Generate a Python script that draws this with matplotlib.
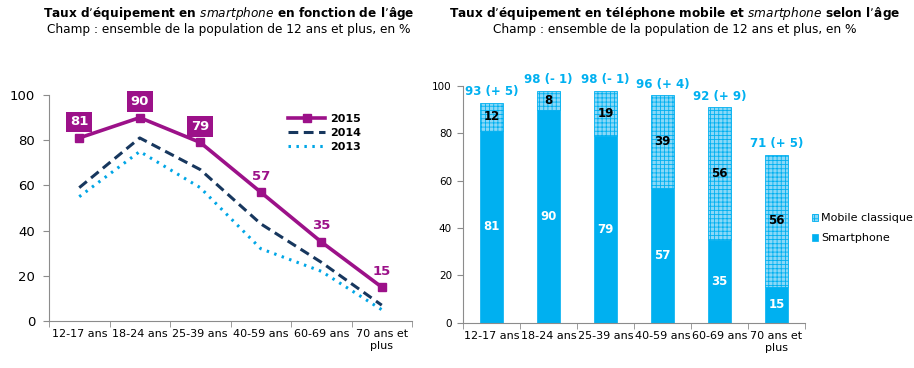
import matplotlib
matplotlib.use("Agg")
import matplotlib.pyplot as plt
import numpy as np

plt.rcParams['font.family'] = ['DejaVu Sans']
plt.rcParams['hatch.linewidth'] = 0.6

categories = ["12-17 ans", "18-24 ans", "25-39 ans", "40-59 ans", "60-69 ans", "70 ans et\nplus"]
y2015 = [81, 90, 79, 57, 35, 15]
y2014 = [59, 81, 67, 43, 26, 7]
y2013 = [55, 75, 59, 32, 22, 5]
boxed = [True, True, True, False, False, False]

smartphone = [81, 90, 79, 57, 35, 15]
mobile_classique = [12, 8, 19, 39, 56, 56]
total_labels = ["93 (+ 5)", "98 (- 1)", "98 (- 1)", "96 (+ 4)", "92 (+ 9)", "71 (+ 5)"]

PURPLE = '#9C1189'
NAVY = '#17375E'
LBLUE = '#00A6E6'
BLUE = '#00B0F0'
HATCHFILL = '#8AD8F7'
AXC = '#8C8C8C'

fig = plt.figure(figsize=(9.14, 3.68), dpi=100)

# ---------- Left chart ----------
ax1 = fig.add_axes([49/914, 1-321/368, 363/914, 226/368])
x = np.arange(len(categories))
ax1.plot(x, y2014, color=NAVY, lw=2.2, ls=(0, (3.2, 1.8)), label='2014', zorder=2)
ax1.plot(x, y2013, color=LBLUE, lw=2.2, ls=(0, (0.8, 1.8)), label='2013', zorder=2)
ax1.plot(x, y2015, color=PURPLE, lw=2.6, marker='s', ms=6, label='2015', zorder=3)

for xi, v, b in zip(x, y2015, boxed):
    if b:
        ax1.annotate(str(v), (xi, v), xytext=(0, 11.5), textcoords='offset points',
                     ha='center', va='center', fontsize=9.5, fontweight='bold', color='white',
                     bbox=dict(boxstyle='square,pad=0.28', fc=PURPLE, ec='none'))
    else:
        ax1.annotate(str(v), (xi, v), xytext=(0, 11.5), textcoords='offset points',
                     ha='center', va='center', fontsize=9.5, fontweight='bold', color=PURPLE)

ax1.set_xlim(-0.5, len(categories) - 0.5)
ax1.set_ylim(0, 100)
ax1.set_yticks(range(0, 101, 20))
ax1.set_xticks(x)
ax1.set_xticklabels(categories, fontsize=8)
ax1.set_xticks(np.arange(-0.5, len(categories), 1), minor=True)
ax1.tick_params(axis='x', which='major', length=0, pad=6)
ax1.tick_params(axis='x', which='minor', length=4, color=AXC)
ax1.tick_params(axis='y', labelsize=9.5, length=4, color=AXC, pad=6)
for s in ['top', 'right']:
    ax1.spines[s].set_visible(False)
for s in ['left', 'bottom']:
    ax1.spines[s].set_color(AXC)
h, l = ax1.get_legend_handles_labels()
order = [2, 0, 1]
ax1.legend([h[i] for i in order], [l[i] for i in order], loc='upper left',
           bbox_to_anchor=(0.63, 0.96), frameon=False, handlelength=3.4,
           handletextpad=0.4, labelspacing=0.35, prop={'weight': 'bold', 'size': 8})

fig.text(229/914, 1-14/368, "Taux d\u2019\u00e9quipement en $\\bf{\\it{smartphone}}$ en fonction de l\u2019\u00e2ge",
         ha='center', va='center', fontsize=8.7, fontweight='bold')
fig.text(229/914, 1-29/368, "Champ : ensemble de la population de 12 ans et plus, en %",
         ha='center', va='center', fontsize=8.7)

# ---------- Right chart ----------
ax2 = fig.add_axes([463/914, 1-322.7/368, 342/914, 236.7/368])
b1 = ax2.bar(x, smartphone, width=0.41, color=BLUE, edgecolor=BLUE, linewidth=0.5, label='Smartphone')
b2 = ax2.bar(x, mobile_classique, bottom=smartphone, width=0.41, color=HATCHFILL,
             edgecolor=BLUE, linewidth=0.6, hatch='++++', label='Mobile classique')
for xi, s, m, t in zip(x, smartphone, mobile_classique, total_labels):
    ax2.text(xi, s / 2, str(s), ha='center', va='center', color='white', fontsize=8.5, fontweight='bold')
    ax2.text(xi, s + m / 2, str(m), ha='center', va='center', color='black', fontsize=8.5, fontweight='bold')
    ax2.annotate(t, (xi, s + m), xytext=(0, 8), textcoords='offset points', ha='center', va='center',
                 color=BLUE, fontsize=8.5, fontweight='bold', annotation_clip=False)

ax2.set_xlim(-0.5, len(categories) - 0.5)
ax2.set_ylim(0, 100)
ax2.set_yticks(range(0, 101, 20))
ax2.set_xticks(x)
ax2.set_xticklabels(categories, fontsize=8)
ax2.set_xticks(np.arange(-0.5, len(categories), 1), minor=True)
ax2.tick_params(axis='x', which='major', length=0, pad=6)
ax2.tick_params(axis='x', which='minor', length=4, color=AXC)
ax2.tick_params(axis='y', labelsize=7.5, length=4, color=AXC, pad=4)
for s in ['top', 'right']:
    ax2.spines[s].set_visible(False)
for s in ['left', 'bottom']:
    ax2.spines[s].set_color(AXC)
ax2.legend([b2, b1], ['Mobile classique', 'Smartphone'], loc='center left',
           bbox_to_anchor=(0.99, 0.40), frameon=False, handlelength=0.6, handleheight=0.6,
           handletextpad=0.25, labelspacing=0.9, prop={'size': 8})

fig.text(675/914, 1-14/368, "Taux d\u2019\u00e9quipement en t\u00e9l\u00e9phone mobile et $\\bf{\\it{smartphone}}$ selon l\u2019\u00e2ge",
         ha='center', va='center', fontsize=8.7, fontweight='bold')
fig.text(675/914, 1-29/368, "Champ : ensemble de la population de 12 ans et plus, en %",
         ha='center', va='center', fontsize=8.7)

fig.savefig('out.png', dpi=100)
